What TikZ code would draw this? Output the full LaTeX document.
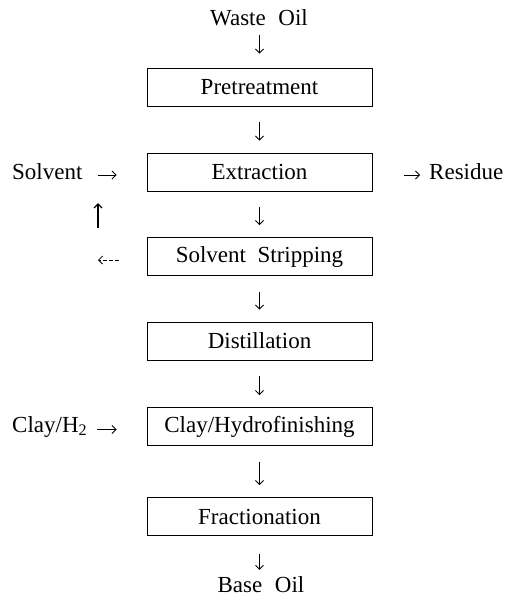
\documentclass[tikz,border=0pt]{standalone}
\usepackage{fontspec}
\setmainfont{Liberation Serif}
\usetikzlibrary{arrows.meta}
\begin{document}
\begin{tikzpicture}[x=1pt,y=-1pt,
  every node/.style={font=\fontsize{23}{27}\selectfont},
  stepbox/.style={draw,line width=0.9pt,minimum width=225pt,minimum height=38pt,inner sep=0pt},
  plain/.style={inner sep=0pt},
  flow/.style={line width=0.8pt,-{Straight Barb[length=4pt,width=8pt]}},
  vflow/.style={flow,shorten <=16pt,shorten >=12pt}]
\useasboundingbox (0,0) rectangle (517,600);
% main column
\node[plain,anchor=base] (waste) at (259,25) {Waste\hspace{0.55em}Oil};
\node[stepbox] (pre)  at (259.5,87)   {Pretreatment};
\node[stepbox] (ext)  at (259.5,172)  {Extraction};
\node[stepbox] (ss)   at (259.5,256.5){Solvent\hspace{0.5em}Stripping};
\node[stepbox] (dist) at (259.5,341)  {Distillation};
\node[stepbox] (clay) at (259.5,426.5){Clay/Hydrofinishing};
\node[stepbox] (frac) at (259.5,516.5){Fractionation};
\node[plain,anchor=base] (base) at (261,592) {Base\hspace{0.55em}Oil};
% side texts
\node[plain,anchor=west] (solv) at (12,172) {Solvent};
\node[plain,anchor=west] (res)  at (429,172) {Residue};
\node[plain,anchor=west] (clayh) at (12,426.5) {Clay/H\textsubscript{2}};
\coordinate (rc) at (98,260);
\coordinate (ua) at (98,228);
\coordinate (ub) at (98,203);
% vertical arrows
\draw[flow,shorten <=10pt,shorten >=14pt] (waste.base -| pre.north) -- (pre.north);
\draw[vflow] (pre) -- (ext);
\draw[vflow] (ext) -- (ss);
\draw[vflow] (ss) -- (dist);
\draw[vflow] (dist) -- (clay);
\draw[vflow] (clay) -- (frac);
\draw[flow,shorten <=18pt,shorten >=6pt] (frac.south) -- (frac.south |- base.north);
% side arrows
\draw[flow,shorten <=15pt,shorten >=30pt] ([yshift=-3pt]solv.east) -- ([yshift=-3pt]solv.east -| ext.west);
\draw[flow,shorten <=32pt,shorten >=9pt] ([yshift=-3pt]ext.east) -- ([yshift=-3pt]ext.east -| res.west);
\draw[flow,shorten <=10pt,shorten >=30pt] ([yshift=-3pt]clayh.east) -- ([yshift=-3pt]clayh.east -| clay.west);
\draw[flow,dash pattern=on 4pt off 2pt,shorten <=28pt] (ss.west |- rc) -- (rc);
\draw[line width=1.4pt,-{Straight Barb[length=4pt,width=8pt]}] (ua) -- (ub);
\end{tikzpicture}
\end{document}
